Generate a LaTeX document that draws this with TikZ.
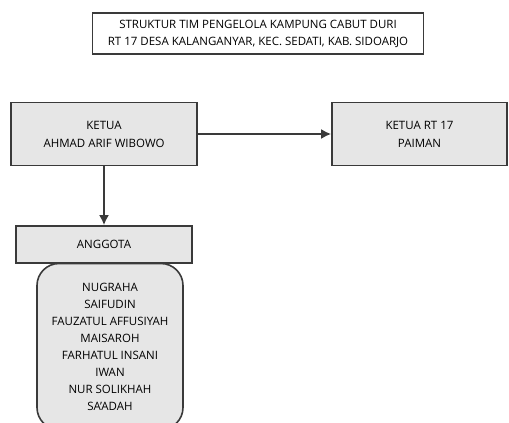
\documentclass[tikz,border=0pt]{standalone}
\usepackage{fontspec}
\setmainfont{Open Sans}
\usetikzlibrary{arrows.meta}
\definecolor{boxgray}{HTML}{E6E6E6}
\definecolor{linegray}{HTML}{3A3A3A}
\tikzset{
	box/.style={draw=linegray,line width=1.6pt,fill=boxgray,align=center,font=\fontsize{11.5}{18}\selectfont,inner sep=0pt},
	link/.style={draw=linegray,line width=2pt,-{Latex[length=10pt,width=10pt]}}
}
\begin{document}
\begin{tikzpicture}[x=1pt,y=1pt]
				\useasboundingbox (0,0) rectangle (509,-423);
				% judul
				\node[draw=linegray,line width=1.3pt,align=center,inner sep=0pt,minimum width=331pt,minimum height=41pt,font=\fontsize{11.5}{17}\selectfont] (judul) at (258,-33.5) {STRUKTUR TIM PENGELOLA KAMPUNG CABUT DURI\\RT 17 DESA KALANGANYAR, KEC. SEDATI, KAB. SIDOARJO};
				% ketua
				\node[box,minimum width=186pt,minimum height=63pt] (ketua) at (104,-134) {KETUA\\AHMAD ARIF WIBOWO};
				\node[box,minimum width=175pt,minimum height=63pt] (rt) at (419.5,-134) {KETUA RT 17\\PAIMAN};
				% anggota
				\node[box,minimum width=176pt,minimum height=37pt] (anggota) at (104,-244.5) {ANGGOTA};
				\node[box,rounded corners=22pt,minimum width=146pt,minimum height=166pt,font=\fontsize{11.5}{17}\selectfont] (nama) at (110,-346.5) {NUGRAHA\\SAIFUDIN\\FAUZATUL AFFUSIYAH\\MAISAROH\\FARHATUL INSANI\\IWAN\\NUR SOLIKHAH\\SA'ADAH};
				\draw[link] (ketua) -- (rt);
				\draw[link] (ketua.south) -- (anggota.north);
			\end{tikzpicture}
\end{document}
